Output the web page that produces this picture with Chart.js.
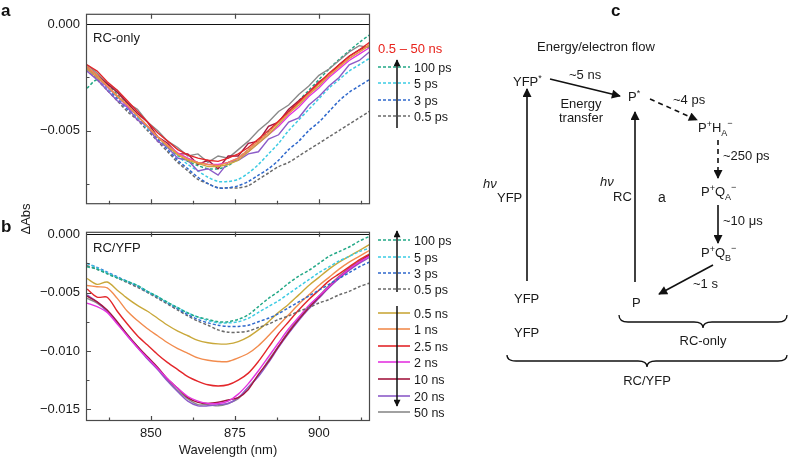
<!DOCTYPE html>
<html><head><meta charset="utf-8">
<script src="https://cdn.jsdelivr.net/npm/chart.js@4/dist/chart.umd.min.js"></script>
<style>
body{margin:0;background:#fff;}
#wrap{position:relative;width:788px;height:462px;overflow:hidden;font-family:"Liberation Sans",Arial,sans-serif;}
canvas{position:absolute;left:0;}
#ca{top:0}
#cb{top:218px}
#ov{position:absolute;left:0;top:0}
</style></head><body>
<div id="wrap">
<canvas id="ca" width="375" height="218"></canvas>
<canvas id="cb" width="375" height="244"></canvas>
<svg id="ov" width="788" height="462" font-family="Liberation Sans, Arial, sans-serif">
  <defs>
    <marker id="ah" viewBox="0 0 10 10" refX="9" refY="5" markerUnits="userSpaceOnUse" markerWidth="10" markerHeight="9" orient="auto">
      <path d="M0,0 L10,5 L0,10 z" fill="#111"/>
    </marker>
    <marker id="ahs" viewBox="0 0 10 10" refX="9" refY="5" markerUnits="userSpaceOnUse" markerWidth="8" markerHeight="7" orient="auto">
      <path d="M0,0 L10,5 L0,10 z" fill="#111"/>
    </marker>
  </defs>
  <g font-weight="bold" font-size="17" fill="#111">
    <text x="1" y="16">a</text>
    <text x="1" y="232">b</text>
    <text x="611" y="16">c</text>
  </g>
  <g font-size="13" fill="#1a1a1a">
    <text x="93" y="42">RC-only</text>
    <text x="93" y="252">RC/YFP</text>
    <text transform="translate(30,219) rotate(-90)" text-anchor="middle">ΔAbs</text>
  </g>
  <g id="legend" font-size="12.5" fill="#1a1a1a"></g>

  <!-- panel c: energy / electron flow scheme -->
  <g stroke="#111" stroke-width="1.6" fill="none">
    <line x1="550" y1="79" x2="620" y2="96" marker-end="url(#ah)"/>
    <line x1="650" y1="99" x2="697" y2="120" stroke-dasharray="5,4" marker-end="url(#ah)"/>
    <line x1="718" y1="140" x2="718" y2="178" stroke-dasharray="5,4" marker-end="url(#ah)"/>
    <line x1="718" y1="205" x2="718" y2="243" marker-end="url(#ah)"/>
    <line x1="713" y1="265" x2="659" y2="294" marker-end="url(#ah)"/>
    <line x1="635" y1="282" x2="635" y2="112" marker-end="url(#ah)"/>
    <line x1="527" y1="281" x2="527" y2="89" marker-end="url(#ah)"/>
    <path stroke-width="1.3" d="M619,315 Q619,322 628,322 L694,322 Q703,322 703,328 Q703,322 712,322 L778,322 Q787,322 787,315"/>
    <path stroke-width="1.3" d="M507,355 Q507,361 516,361 L638,361 Q647,361 647,367 Q647,361 656,361 L778,361 Q787,361 787,355"/>
  </g>
  <g font-size="13" fill="#1a1a1a">
    <text x="537" y="51">Energy/electron flow</text>
    <text x="513" y="86">YFP<tspan font-size="9" dy="-5">*</tspan></text>
    <text x="569" y="79">~5 ns</text>
    <text x="581" y="108" text-anchor="middle">Energy</text>
    <text x="581" y="122" text-anchor="middle">transfer</text>
    <text x="628" y="101">P<tspan font-size="9" dy="-5">*</tspan></text>
    <text x="673" y="104">~4 ps</text>
    <text x="698" y="132">P<tspan font-size="9" dy="-5">+</tspan><tspan dy="5">H</tspan><tspan font-size="9" dy="4">A</tspan><tspan font-size="9" dy="-10">−</tspan></text>
    <text x="723" y="160">~250 ps</text>
    <text x="701" y="196">P<tspan font-size="9" dy="-5">+</tspan><tspan dy="5">Q</tspan><tspan font-size="9" dy="4">A</tspan><tspan font-size="9" dy="-10">−</tspan></text>
    <text x="723" y="225">~10 μs</text>
    <text x="701" y="257">P<tspan font-size="9" dy="-5">+</tspan><tspan dy="5">Q</tspan><tspan font-size="9" dy="4">B</tspan><tspan font-size="9" dy="-10">−</tspan></text>
    <text x="693" y="288">~1 s</text>
    <text x="632" y="307">P</text>
    <text x="600" y="186" font-style="italic">hν</text>
    <text x="613" y="201">RC</text>
    <text x="658" y="202" font-size="14">a</text>
    <text x="483" y="188" font-style="italic">hν</text>
    <text x="497" y="202">YFP</text>
    <text x="514" y="303">YFP</text>
    <text x="514" y="337">YFP</text>
    <text x="703" y="345" text-anchor="middle">RC-only</text>
    <text x="647" y="385" text-anchor="middle">RC/YFP</text>
  </g>
</svg>
</div>
<script>
// wavelength grid (nm)
const wavelength = [831,834,837,840,843,846,849,852,855,858,861,864,867,870,873,876,879,882,885,888,891,894,897,900,903,906,909,912,915];

// panel a: RC-only, 0.5-50 ns (solid)
const aRed = [-0.0019,-0.0022,-0.0027,-0.0031,-0.0036,-0.0041,-0.0046,-0.0051,-0.0055,-0.0059,-0.00615,-0.0063,-0.0064,-0.00645,-0.0063,-0.0061,-0.0058,-0.0054,-0.0050,-0.00455,-0.0041,-0.00365,-0.0032,-0.00275,-0.0023,-0.0019,-0.0015,-0.0012,-0.00085];
const aOrange = [-0.0020,-0.0024,-0.0029,-0.00335,-0.0038,-0.0043,-0.0048,-0.0053,-0.0057,-0.0061,-0.00635,-0.0065,-0.0066,-0.00665,-0.0065,-0.0063,-0.0059,-0.0055,-0.0051,-0.0046,-0.0042,-0.0037,-0.0033,-0.0028,-0.0024,-0.0020,-0.0016,-0.0013,-0.00095];
const aYellow = [-0.0021,-0.0025,-0.0029,-0.0034,-0.0038,-0.0043,-0.0048,-0.0053,-0.00575,-0.00615,-0.0064,-0.00655,-0.0067,-0.0067,-0.0066,-0.0064,-0.0060,-0.0056,-0.0052,-0.0047,-0.0042,-0.0038,-0.0033,-0.0029,-0.0024,-0.0020,-0.0016,-0.0013,-0.0010];
const aMagenta = [-0.0021,-0.0025,-0.00295,-0.0034,-0.00385,-0.0043,-0.0048,-0.0053,-0.0057,-0.00605,-0.0063,-0.0065,-0.0066,-0.0066,-0.0065,-0.0063,-0.0060,-0.0056,-0.0052,-0.0048,-0.0043,-0.0039,-0.0034,-0.0030,-0.0025,-0.0021,-0.0017,-0.0014,-0.0011];
const aDarkRed = [-0.0020,-0.0024,-0.0028,-0.0032,-0.0037,-0.0042,-0.0046,-0.0053,-0.0056,-0.0061,-0.0061,-0.0066,-0.0064,-0.0068,-0.0062,-0.0062,-0.0056,-0.0055,-0.0048,-0.0046,-0.0040,-0.0036,-0.0032,-0.0027,-0.0024,-0.0019,-0.0015,-0.0012,-0.0010];
const aPurple = [-0.0022,-0.0026,-0.0031,-0.0036,-0.0039,-0.0045,-0.0048,-0.0055,-0.0058,-0.0063,-0.0064,-0.0069,-0.0068,-0.0071,-0.0065,-0.0064,-0.0061,-0.0060,-0.0054,-0.0052,-0.0046,-0.0044,-0.0038,-0.0034,-0.0029,-0.0025,-0.0019,-0.0017,-0.0013];
const aGray = [-0.0019,-0.0023,-0.0028,-0.0031,-0.0037,-0.0040,-0.0046,-0.0050,-0.0055,-0.0058,-0.0062,-0.0061,-0.0065,-0.0062,-0.0063,-0.0059,-0.0055,-0.0050,-0.0046,-0.0041,-0.0038,-0.0033,-0.0029,-0.0024,-0.0021,-0.0017,-0.0013,-0.0010,-0.0011];
// panel a: ps traces (dashed)
const a100ps = [-0.0030,-0.0026,-0.0028,-0.0033,-0.0038,-0.0043,-0.0048,-0.0053,-0.00575,-0.00615,-0.00645,-0.00665,-0.0068,-0.0068,-0.00665,-0.0063,-0.0059,-0.0055,-0.00505,-0.0046,-0.0041,-0.0036,-0.0031,-0.0026,-0.0021,-0.00165,-0.00125,-0.00085,-0.0005];
const a5ps = [-0.0021,-0.0025,-0.0030,-0.0034,-0.0039,-0.0044,-0.0049,-0.0053,-0.0058,-0.0062,-0.0066,-0.0069,-0.0072,-0.0074,-0.0074,-0.0073,-0.0070,-0.0066,-0.0061,-0.0056,-0.0050,-0.0045,-0.0040,-0.0035,-0.0030,-0.0026,-0.0022,-0.0019,-0.0016];
const a3ps = [-0.0021,-0.0025,-0.0030,-0.0035,-0.0040,-0.0044,-0.0049,-0.0054,-0.0059,-0.0064,-0.0068,-0.0072,-0.0075,-0.0077,-0.0077,-0.0076,-0.0074,-0.0071,-0.0068,-0.0064,-0.0059,-0.0055,-0.0050,-0.0046,-0.0041,-0.0036,-0.0032,-0.0029,-0.0026];
const a05ps = [-0.0021,-0.0026,-0.0031,-0.0036,-0.0041,-0.0045,-0.0050,-0.0055,-0.0060,-0.0065,-0.0069,-0.0073,-0.0075,-0.0077,-0.0077,-0.0077,-0.0076,-0.0073,-0.0070,-0.0067,-0.0065,-0.0062,-0.0059,-0.0056,-0.0053,-0.0050,-0.0047,-0.0044,-0.0041];

// panel b: RC/YFP
const b100ps = [-0.0028,-0.0030,-0.0034,-0.00375,-0.00405,-0.0044,-0.0049,-0.00535,-0.00585,-0.0063,-0.00675,-0.0071,-0.0073,-0.0075,-0.0075,-0.0073,-0.0069,-0.0062,-0.0055,-0.0049,-0.0042,-0.0036,-0.0031,-0.0025,-0.0019,-0.0015,-0.0011,-0.0006,-0.0002];
const b5ps = [-0.0025,-0.0029,-0.0033,-0.0037,-0.00405,-0.0044,-0.0049,-0.00535,-0.00585,-0.0063,-0.00675,-0.0071,-0.0074,-0.0076,-0.0076,-0.0075,-0.0072,-0.0067,-0.0062,-0.0057,-0.0051,-0.0045,-0.0039,-0.0033,-0.0028,-0.0023,-0.0019,-0.0015,-0.0012];
const b3ps = [-0.0025,-0.00285,-0.00325,-0.00365,-0.00405,-0.00445,-0.00495,-0.0054,-0.0059,-0.0064,-0.0069,-0.0073,-0.0076,-0.0078,-0.0079,-0.0079,-0.0078,-0.0075,-0.0072,-0.0068,-0.0063,-0.0058,-0.0053,-0.0048,-0.0043,-0.0038,-0.0033,-0.0028,-0.0024];
const b05ps = [-0.0027,-0.0030,-0.00335,-0.00375,-0.00415,-0.00455,-0.0050,-0.0055,-0.0060,-0.0065,-0.0070,-0.00745,-0.0078,-0.0082,-0.0084,-0.0084,-0.0083,-0.0080,-0.0077,-0.0073,-0.0070,-0.0066,-0.0063,-0.0059,-0.0056,-0.0052,-0.0049,-0.0045,-0.0042];
const b05ns = [-0.0038,-0.0043,-0.0041,-0.0048,-0.0055,-0.0061,-0.0066,-0.0072,-0.0078,-0.0083,-0.0087,-0.0091,-0.0093,-0.0094,-0.0094,-0.0092,-0.0088,-0.0082,-0.0075,-0.0067,-0.0060,-0.0052,-0.0044,-0.0037,-0.0030,-0.0024,-0.0019,-0.0014,-0.0009];
const b1ns = [-0.0044,-0.0045,-0.0046,-0.0055,-0.0066,-0.0074,-0.0081,-0.0087,-0.0093,-0.0098,-0.0102,-0.0106,-0.0108,-0.0109,-0.0109,-0.0106,-0.0102,-0.00955,-0.0087,-0.0078,-0.0069,-0.0060,-0.0052,-0.0044,-0.0037,-0.0030,-0.0024,-0.0019,-0.0014];
const b25ns = [-0.0047,-0.0054,-0.0054,-0.0066,-0.0077,-0.0087,-0.0095,-0.0103,-0.0110,-0.0116,-0.0122,-0.0126,-0.0129,-0.0130,-0.0129,-0.0125,-0.0119,-0.0109,-0.0097,-0.0085,-0.0075,-0.0065,-0.0056,-0.0048,-0.0040,-0.0034,-0.0028,-0.0022,-0.0017];
const b2ns = [-0.0059,-0.0062,-0.0067,-0.0077,-0.0087,-0.0097,-0.0106,-0.0115,-0.0124,-0.0132,-0.0139,-0.0143,-0.0145,-0.0145,-0.0143,-0.0137,-0.0128,-0.0117,-0.0105,-0.0093,-0.0081,-0.0071,-0.0061,-0.0053,-0.0045,-0.0037,-0.0030,-0.0024,-0.0019];
const b10ns = [-0.0053,-0.0058,-0.0065,-0.0075,-0.0086,-0.0096,-0.0105,-0.0114,-0.0124,-0.0132,-0.0140,-0.0144,-0.0145,-0.0144,-0.0142,-0.0140,-0.0133,-0.0120,-0.0109,-0.0096,-0.0084,-0.0073,-0.0063,-0.0054,-0.0045,-0.0037,-0.0030,-0.0024,-0.0018];
const b20ns = [-0.0052,-0.0058,-0.0066,-0.0076,-0.0087,-0.0097,-0.0107,-0.0116,-0.0126,-0.0135,-0.0143,-0.0147,-0.0147,-0.0146,-0.0145,-0.0140,-0.0131,-0.0122,-0.0110,-0.0097,-0.0085,-0.0074,-0.0064,-0.0055,-0.0046,-0.0038,-0.0031,-0.0025,-0.0020];
const b50ns = [-0.0055,-0.0059,-0.0066,-0.0076,-0.0086,-0.0096,-0.0106,-0.0115,-0.0125,-0.0134,-0.0141,-0.0146,-0.0146,-0.0147,-0.0145,-0.0141,-0.0131,-0.0121,-0.0108,-0.0096,-0.0083,-0.0072,-0.0062,-0.0053,-0.0044,-0.0036,-0.0029,-0.0023,-0.0018];

// labels and colours
const dashLabels = ['100 ps', '5 ps', '3 ps', '0.5 ps'];
const dashColors = ['#22a886', '#3ccbe3', '#2f68cc', '#6a6a6a'];
const solidLabels = ['0.5 ns', '1 ns', '2.5 ns', '2 ns', '10 ns', '20 ns', '50 ns'];
const solidColors = ['#c9a83a', '#f28c4e', '#e3262a', '#e434e0', '#a3173f', '#8c5bc8', '#8a8a8a'];

// axis ticks
const xMajor = [850, 875, 900];
const xMinor = [837.5, 862.5, 887.5, 912.5];
const yTicksA = [0, -0.0025, -0.005, -0.0075];
const yTicksB = [0, -0.0025, -0.005, -0.0075, -0.01, -0.0125, -0.015];
const yMajor = [0, -0.005, -0.01, -0.015];

const FONT = 'Liberation Sans, Arial, sans-serif';

function mk(label, vals, color, dashed, tension) {
  return {
    label: label,
    data: wavelength.map((w, i) => ({ x: w, y: vals[i] })),
    borderColor: color,
    borderWidth: dashed ? 1.5 : 1.4,
    borderDash: dashed ? [3, 2] : [],
    pointRadius: 0,
    tension: tension,
    fill: false
  };
}

function fmtY(v) {
  if (v === 0) return '0.000';
  return '\u2212' + Math.abs(v).toFixed(3);
}

const framePlugin = {
  id: 'frame',
  afterDatasetsDraw(chart) {
    const { ctx, chartArea: a } = chart;
    const x = chart.scales.x, y = chart.scales.y;
    ctx.save();
    ctx.lineWidth = 1;
    // zero line
    const y0 = Math.round(y.getPixelForValue(0)) + 0.5;
    ctx.strokeStyle = '#111';
    ctx.beginPath(); ctx.moveTo(a.left, y0); ctx.lineTo(a.right, y0); ctx.stroke();
    // box
    ctx.strokeStyle = '#4a4a4a';
    ctx.lineWidth = 1.2;
    ctx.strokeRect(a.left + 0.5, a.top + 0.5, a.right - a.left - 1, a.bottom - a.top - 1);
    ctx.beginPath();
    x.ticks.forEach(t => {
      const px = Math.round(x.getPixelForValue(t.value)) + 0.5;
      const major = xMajor.includes(t.value);
      const len = major ? 5 : 3.5;
      ctx.moveTo(px, a.bottom); ctx.lineTo(px, a.bottom - len);
      if (major) { ctx.moveTo(px, a.top); ctx.lineTo(px, a.top + len); }
    });
    y.ticks.forEach(t => {
      if (t.value === 0) return;
      const py = Math.round(y.getPixelForValue(t.value)) + 0.5;
      const len = yMajor.includes(t.value) ? 5 : 3.5;
      ctx.moveTo(a.left, py); ctx.lineTo(a.left + len, py);
    });
    ctx.stroke();
    ctx.restore();
  }
};

function makeOptions(yMin, yMax, yTicks, showX, xHeight, padTop) {
  return {
    responsive: false,
    animation: false,
    devicePixelRatio: 1,
    layout: { padding: { top: padTop, right: 5, left: 0, bottom: 0 } },
    plugins: { legend: { display: false }, tooltip: { enabled: false } },
    scales: {
      x: {
        type: 'linear', min: 830.7, max: 915.2,
        grid: { display: false, drawTicks: false },
        border: { display: false },
        afterBuildTicks: s => { s.ticks = xMinor.concat(xMajor).sort((p, q) => p - q).map(v => ({ value: v })); },
        afterFit: s => { s.height = xHeight; },
        ticks: {
          display: showX, autoSkip: false, maxRotation: 0, padding: 5,
          color: '#1a1a1a', font: { family: FONT, size: 13 },
          callback: v => xMajor.includes(v) ? String(v) : ''
        },
        title: {
          display: showX, text: 'Wavelength (nm)', color: '#1a1a1a',
          font: { family: FONT, size: 13 }, padding: { top: 0, bottom: 4 }
        }
      },
      y: {
        min: yMin, max: yMax,
        grid: { display: false, drawTicks: false },
        border: { display: false },
        afterBuildTicks: s => { s.ticks = yTicks.map(v => ({ value: v })); },
        afterFit: s => { s.width = 86; },
        ticks: {
          autoSkip: false, padding: 6, color: '#1a1a1a',
          font: { family: FONT, size: 13 },
          callback: v => yMajor.includes(v) ? fmtY(v) : ''
        }
      }
    }
  };
}

const solidA = [aYellow, aOrange, aRed, aMagenta, aDarkRed, aPurple, aGray];
const dashA = [a100ps, a5ps, a3ps, a05ps];
const solidB = [b05ns, b1ns, b25ns, b2ns, b10ns, b20ns, b50ns];
const dashB = [b100ps, b5ps, b3ps, b05ps];

// panel a: red drawn on top, noisy traces below
const orderA = [2, 1, 0, 3, 4, 5, 6];
const dsA = orderA.map(i => mk(solidLabels[i], solidA[i], solidColors[i], false, 0))
  .concat(dashA.map((d, i) => mk(dashLabels[i], d, dashColors[i], true, 0.3)));

const dsB = dashB.map((d, i) => mk(dashLabels[i], d, dashColors[i], true, 0.3))
  .concat(solidB.map((d, i) => mk(solidLabels[i], d, solidColors[i], false, 0.3)));

new Chart(document.getElementById('ca'), {
  type: 'line',
  data: { datasets: dsA },
  options: makeOptions(-0.00847, 0.0005, yTicksA, false, 7, 12),
  plugins: [framePlugin]
});

new Chart(document.getElementById('cb'), {
  type: 'line',
  data: { datasets: dsB },
  options: makeOptions(-0.016, 0.0002, yTicksB, true, 41, 5),
  plugins: [framePlugin]
});

// legends (svg)
const NS = 'http://www.w3.org/2000/svg';
const lg = document.getElementById('legend');
function el(tag, attrs, text) {
  const e = document.createElementNS(NS, tag);
  for (const k in attrs) e.setAttribute(k, attrs[k]);
  if (text) e.textContent = text;
  lg.appendChild(e);
  return e;
}
function row(yy, label, color, dashed) {
  el('line', { x1: 378, x2: 410, y1: yy, y2: yy, stroke: color, 'stroke-width': 1.6, 'stroke-dasharray': dashed ? '3,2' : 'none' });
  el('text', { x: 414, y: yy + 4.5 }, label);
}
function arrow(x, y1, y2) {
  el('line', { x1: x, x2: x, y1: y1, y2: y2, stroke: '#111', 'stroke-width': 1.5, 'marker-end': 'url(#ahs)' });
}

el('text', { x: 378, y: 53, fill: '#e8231c', 'font-size': 13 }, '0.5 \u2013 50 ns');
const rowsA = [67, 83, 100, 116];
dashLabels.forEach((l, i) => row(rowsA[i], l, dashColors[i], true));
arrow(397, 128, 60);

const rowsBd = [240, 257, 273, 289];
const rowsBs = [313, 329, 346, 362, 379, 396, 412];
dashLabels.forEach((l, i) => row(rowsBd[i], l, dashColors[i], true));
solidLabels.forEach((l, i) => row(rowsBs[i], l, solidColors[i], false));
arrow(397, 292, 231);
arrow(397, 306, 406);
</script>
</body></html>
